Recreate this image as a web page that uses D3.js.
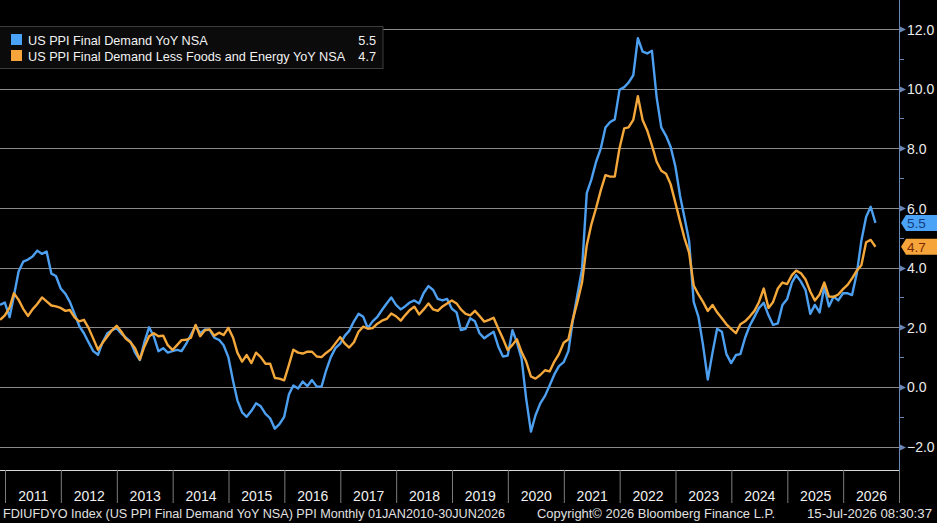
<!DOCTYPE html>
<html>
<head>
<meta charset="utf-8">
<script src="https://cdn.jsdelivr.net/npm/d3@7"></script>
<style>
  html, body { margin: 0; padding: 0; background: #000; }
  svg { display: block; }
  text { font-family: "Liberation Sans", Arial, sans-serif; }
</style>
</head>
<body>
<div id="chart"></div>
<script>
// monthly values, Oct 2010 .. Jun 2026
const firstMonth = [2010, 9];

const fdYoy = [
  2.75, 2.83, 2.34,
  3.05, 3.87, 4.2, 4.27, 4.37, 4.57, 4.46, 4.54, 3.8, 3.72, 3.3, 3.12,
  2.85, 2.45, 2.05, 1.8, 1.5, 1.2, 1.08, 1.5, 1.8, 1.9, 1.97, 1.78,
  1.66, 1.52, 1.15, 0.9, 1.5, 2.0, 1.69, 1.2, 1.3, 1.15, 1.2, 1.24,
  1.2, 1.45, 1.75, 2.05, 1.8, 1.93, 1.91, 1.65, 1.58, 1.4, 1.0, 0.2,
  -0.45, -0.85, -1.0, -0.8, -0.55, -0.65, -0.9, -1.05, -1.4, -1.25, -1.0, -0.25,
  0.05, -0.05, 0.18, 0.03, 0.23, 0.01, 0.01, 0.55, 1.0, 1.3, 1.45, 1.72,
  1.88, 2.2, 2.45, 2.35, 1.97, 2.2, 2.35, 2.58, 2.8, 3.0, 2.75, 2.6,
  2.7, 2.83, 2.9, 2.8, 3.15, 3.38, 3.25, 2.95, 2.9, 2.95, 2.62, 2.5,
  1.91, 1.95, 2.3, 2.2, 1.8, 1.63, 1.75, 1.85, 1.35, 1.02, 1.05, 1.9,
  1.5, 0.95, -0.4, -1.5, -0.95, -0.55, -0.3, 0.05, 0.42, 0.7, 0.83, 1.2,
  2.2, 3.1, 3.95, 6.5, 6.95, 7.55, 8.0, 8.7, 8.88, 8.97, 9.96, 10.05,
  10.2, 10.45, 11.69, 11.24, 11.18, 11.27, 9.7, 8.7, 8.42, 8.05, 7.4, 6.4,
  5.7, 4.9, 2.85, 2.35, 1.4, 0.25, 1.15, 1.95, 1.85, 1.1, 0.8, 1.07,
  1.1, 1.65, 2.05, 2.35, 2.65, 2.82, 2.4, 2.08, 2.13, 2.75, 2.95, 3.5,
  3.75, 3.53, 3.25, 2.45, 2.75, 2.5, 3.36, 2.7, 3.03, 2.9, 3.14, 3.14,
  3.08, 3.8, 4.9, 5.7, 6.04, 5.5
];

const fdCoreYoy = [
  2.25, 2.4, 2.66,
  3.14, 2.92, 2.62, 2.38, 2.6, 2.78, 3.0, 2.87, 2.73, 2.7, 2.65, 2.55,
  2.58, 2.33, 2.2, 2.25, 1.98, 1.62, 1.25, 1.48, 1.69, 1.9, 2.05, 1.85,
  1.62, 1.5, 1.3, 0.92, 1.35, 1.7, 1.8, 1.7, 1.72, 1.4, 1.24, 1.41,
  1.57, 1.58, 1.65, 2.08, 1.7, 1.9, 1.93, 1.72, 1.82, 1.74, 1.98, 1.65,
  1.15, 0.85, 1.07, 0.8, 1.15, 1.0, 0.78, 0.78, 0.3, 0.28, 0.22, 0.74,
  1.25, 1.15, 1.12, 1.18, 1.18, 1.02, 1.0, 1.14, 1.26, 1.46, 1.67, 1.45,
  1.32, 1.5, 1.85, 2.02, 1.95, 1.97, 2.12, 2.22, 2.28, 2.46, 2.37, 2.22,
  2.4, 2.58, 2.69, 2.43, 2.6, 2.8, 2.6, 2.55, 2.7, 2.8, 2.9, 2.8,
  2.6, 2.45, 2.4, 2.55, 2.38, 2.19, 2.25, 2.32, 1.95, 1.62, 1.24, 1.41,
  1.6, 1.17, 0.85, 0.35, 0.28, 0.4, 0.56, 0.52, 0.85, 1.1, 1.48, 1.6,
  2.25, 2.85, 3.5, 4.75, 5.45, 6.0, 6.6, 7.1, 7.05, 7.05, 8.0, 8.67,
  8.7, 8.95, 9.75, 8.95, 8.6, 8.1, 7.55, 7.25, 7.15, 6.8, 6.18, 5.55,
  5.0, 4.5, 3.4, 3.1, 2.85, 2.55, 2.75, 2.5, 2.3, 2.1, 1.95, 1.8,
  2.1, 2.2, 2.36, 2.55, 2.85, 3.3, 2.65, 2.85, 3.3, 3.5, 3.45, 3.75,
  3.9, 3.81, 3.6, 3.2, 2.9, 3.1, 3.5, 3.03, 3.02, 3.1, 3.28, 3.43,
  3.64, 3.9, 4.08, 4.85, 4.93, 4.7
];

const yearLabels = ['2011', '2012', '2013', '2014', '2015', '2016', '2017', '2018',
  '2019', '2020', '2021', '2022', '2023', '2024', '2025', '2026'];
const yTicks = [-2, 0, 2, 4, 6, 8, 10, 12];
const yMinorTicks = [-1, 1, 3, 5, 7, 9, 11];
const seriesNames = ['US PPI Final Demand YoY NSA', 'US PPI Final Demand Less Foods and Energy YoY NSA'];
const lastLabels = ['5.5', '4.7'];
const footerTexts = [
  'FDIUFDYO Index (US PPI Final Demand YoY NSA) PPI Monthly 01JAN2010-30JUN2026',
  'Copyright\u00A9 2026 Bloomberg Finance L.P.',
  '15-Jul-2026 08:30:37'
];

const width = 937, height = 523;
const plotRight = 899, plotBottom = 470;
const colors = ['#4d9ff0', '#f4a73a'];
const tagColors = ['#4aa3f7', '#f6a53a'];
const tagText = ['#123d80', '#7a2800'];

const svg = d3.select('#chart').append('svg')
  .attr('width', width)
  .attr('height', height);

svg.append('rect').attr('width', width).attr('height', height).attr('fill', '#000');

const x = d3.scaleTime()
  .domain([new Date(2011, 0, 1), new Date(2027, 0, 1)])
  .range([5, plotRight]);
const y = d3.scaleLinear().domain([-2, 12]).range([446.6, 29]);

// points sit at the end of the month after the reference month
const pointDate = i => new Date(firstMonth[0], firstMonth[1] + i + 2, 0);

//grid
svg.append('g').selectAll('line')
  .data(yTicks)
  .enter().append('line')
  .attr('x1', 0).attr('x2', plotRight)
  .attr('y1', d => Math.round(y(d)) + 0.5)
  .attr('y2', d => Math.round(y(d)) + 0.5)
  .attr('stroke', '#8a8a8a')
  .attr('stroke-width', 1);

//lines
svg.append('clipPath').attr('id', 'plotClip')
  .append('rect').attr('x', 0).attr('y', 0).attr('width', plotRight).attr('height', plotBottom);

const line = d3.line()
  .x((d, i) => x(pointDate(i)))
  .y(d => y(d));

const lines = svg.append('g').attr('clip-path', 'url(#plotClip)');
[fdYoy, fdCoreYoy].forEach((s, k) => {
  lines.append('path')
    .datum(s)
    .attr('d', line)
    .attr('fill', 'none')
    .attr('stroke', colors[k])
    .attr('stroke-width', 2.4)
    .attr('stroke-linejoin', 'round');
});

//bottom frame and year bands
svg.append('line')
  .attr('x1', 0).attr('x2', plotRight)
  .attr('y1', plotBottom + 0.5).attr('y2', plotBottom + 0.5)
  .attr('stroke', '#d8d8d8');

const yearStarts = yearLabels.map(d => new Date(+d, 0, 1));
const xAxis = d3.axisBottom(x)
  .tickValues(yearStarts.concat([new Date(2027, 0, 1)]))
  .tickSize(33)
  .tickFormat('');
const xg = svg.append('g')
  .attr('transform', `translate(0,${plotBottom})`)
  .call(xAxis);
xg.select('.domain').remove();
xg.selectAll('.tick line').attr('stroke', '#7c7c7c');

const xLabels = d3.axisBottom(x)
  .tickValues(yearLabels.map(d => new Date(+d, 6, 2)))
  .tickSize(0)
  .tickFormat(d3.timeFormat('%Y'));
const xl = svg.append('g')
  .attr('transform', `translate(0,${plotBottom})`)
  .call(xLabels);
xl.select('.domain').remove();
xl.selectAll('text')
  .attr('y', 31)
  .attr('dy', 0)
  .attr('fill', '#f0f0f0')
  .style('font-size', '14px');

//right axis
const yAxis = d3.axisRight(y)
  .tickValues(yTicks)
  .tickSize(0)
  .tickPadding(8)
  .tickFormat(d3.format('.1f'));
const yg = svg.append('g')
  .attr('transform', `translate(${plotRight},0)`)
  .call(yAxis);
yg.select('.domain').remove();
yg.selectAll('text')
  .attr('fill', '#ececec')
  .attr('dy', '0.36em')
  .style('font-size', '14px');

svg.append('line')
  .attr('x1', plotRight + 0.5).attr('x2', plotRight + 0.5)
  .attr('y1', 0).attr('y2', plotBottom + 1)
  .attr('stroke', '#6a86b5');

svg.append('g').selectAll('path')
  .data(yTicks)
  .enter().append('path')
  .attr('d', d => {
    const yy = Math.round(y(d)) + 0.5;
    return `M${plotRight},${yy - 3.5}L${plotRight + 7},${yy}L${plotRight},${yy + 3.5}Z`;
  })
  .attr('fill', '#6a86b5');

svg.append('g').selectAll('line')
  .data(yMinorTicks)
  .enter().append('line')
  .attr('x1', plotRight).attr('x2', plotRight + 5)
  .attr('y1', d => Math.round(y(d)) + 0.5)
  .attr('y2', d => Math.round(y(d)) + 0.5)
  .attr('stroke', '#6a86b5');

//last value tags
const lastVals = [fdYoy[fdYoy.length - 1], fdCoreYoy[fdCoreYoy.length - 1]];
lastVals.forEach((v, k) => {
  const yc = y(v);
  svg.append('path')
    .attr('d', `M${plotRight + 2},${yc}L${plotRight + 7},${yc - 8}L${width},${yc - 8}L${width},${yc + 8}L${plotRight + 7},${yc + 8}Z`)
    .attr('fill', tagColors[k]);
  svg.append('text')
    .attr('x', plotRight + 8)
    .attr('y', yc + 5)
    .attr('fill', tagText[k])
    .style('font-size', '13.5px')
    .text(lastLabels[k]);
});

//legend
const legend = svg.append('g');
legend.append('rect')
  .attr('x', -1).attr('y', 26.5)
  .attr('width', 384).attr('height', 42)
  .attr('fill', '#0b0b0b')
  .attr('stroke', '#3c3c3c');

seriesNames.forEach((name, k) => {
  const ly = 34 + k * 16;
  legend.append('rect')
    .attr('x', 11).attr('y', ly)
    .attr('width', 11).attr('height', 11)
    .attr('fill', tagColors[k]);
  legend.append('text')
    .attr('x', 28).attr('y', ly + 10.5)
    .attr('fill', '#f2f2f2')
    .style('font-size', '12.7px')
    .text(name);
  legend.append('text')
    .attr('x', 376).attr('y', ly + 10.5)
    .attr('text-anchor', 'end')
    .attr('fill', '#f2f2f2')
    .style('font-size', '12.7px')
    .text(lastLabels[k]);
});

//footer
const footerX = [3, 537, 807];
const footerLen = [502, 238, 125];
footerTexts.forEach((t, k) => {
  svg.append('text')
    .attr('x', footerX[k])
    .attr('y', 518)
    .attr('fill', '#e2e2e2')
    .attr('textLength', footerLen[k])
    .attr('lengthAdjust', 'spacingAndGlyphs')
    .style('font-size', '12.5px')
    .text(t);
});
</script>
</body>
</html>
